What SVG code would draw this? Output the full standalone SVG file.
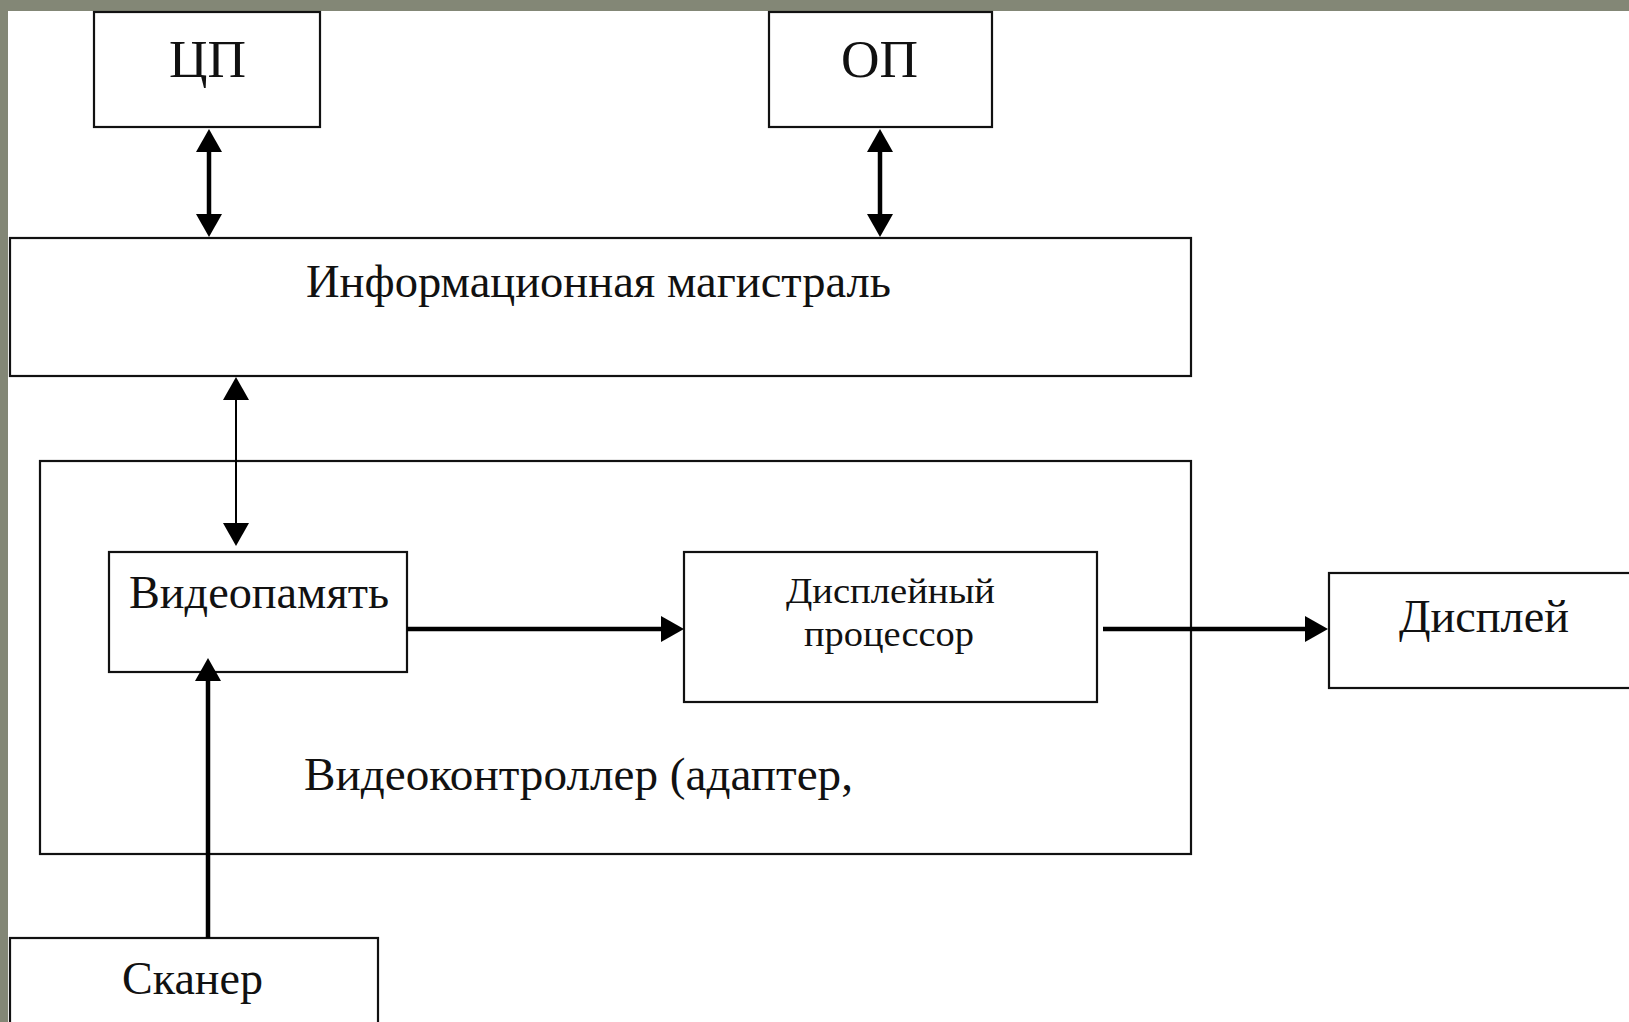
<svg xmlns="http://www.w3.org/2000/svg" width="1629" height="1022" viewBox="0 0 1629 1022">
<defs>
<style>
.box{fill:#fff;stroke:#111;stroke-width:2.2}
.t{font-family:"Liberation Serif","Times New Roman",serif;fill:#111}
.thick{stroke:#000;stroke-width:4.5;fill:none}
.thin{stroke:#000;stroke-width:2;fill:none}
</style>
<marker id="ah" markerUnits="userSpaceOnUse" markerWidth="24" markerHeight="26" refX="1" refY="13" orient="auto-start-reverse">
<path d="M0,0 L23,13 L0,26 z" fill="#000"/>
</marker>
</defs>
<rect x="0" y="0" width="1629" height="1022" fill="#838776"/>
<rect x="8" y="11" width="1621" height="1011" fill="#fff"/>

<g id="cpu">
<rect class="box" x="94" y="12" width="226" height="115"/>
<text class="t" x="169" y="77" font-size="52" textLength="77" lengthAdjust="spacingAndGlyphs">ЦП</text>
</g>
<g id="ram">
<rect class="box" x="769" y="12" width="223" height="115"/>
<text class="t" x="841" y="77" font-size="52" textLength="77" lengthAdjust="spacingAndGlyphs">ОП</text>
</g>
<g id="bus">
<rect class="box" x="10" y="238" width="1181" height="138"/>
<text class="t" x="306" y="297" font-size="46" textLength="585" lengthAdjust="spacingAndGlyphs">Информационная магистраль</text>
</g>
<g id="videocontroller">
<rect class="box" x="40" y="461" width="1151" height="393"/>
<text class="t" x="304" y="790" font-size="46" textLength="549" lengthAdjust="spacingAndGlyphs">Видеоконтроллер (адаптер,</text>
</g>
<g id="videomemory">
<rect class="box" x="109" y="552" width="298" height="120"/>
<text class="t" x="129" y="608" font-size="46" textLength="260" lengthAdjust="spacingAndGlyphs">Видеопамять</text>
</g>
<g id="display-processor">
<rect class="box" x="684" y="552" width="413" height="150"/>
<text class="t" x="786" y="603" font-size="35" textLength="209" lengthAdjust="spacingAndGlyphs">Дисплейный</text>
<text class="t" x="804" y="646" font-size="35" textLength="170" lengthAdjust="spacingAndGlyphs">процессор</text>
</g>
<g id="display">
<rect class="box" x="1329" y="573" width="320" height="115"/>
<text class="t" x="1399" y="632" font-size="46" textLength="170" lengthAdjust="spacingAndGlyphs">Дисплей</text>
</g>
<g id="scanner">
<rect class="box" x="10" y="938" width="368" height="100"/>
<text class="t" x="122" y="994" font-size="46" textLength="141" lengthAdjust="spacingAndGlyphs">Сканер</text>
</g>

<g id="connectors">
<line class="thick" x1="209" y1="151" x2="209" y2="215" marker-start="url(#ah)" marker-end="url(#ah)"/>
<line class="thick" x1="880" y1="151" x2="880" y2="215" marker-start="url(#ah)" marker-end="url(#ah)"/>
<line class="thin" x1="236" y1="399" x2="236" y2="524" marker-start="url(#ah)" marker-end="url(#ah)"/>
<line class="thick" x1="208" y1="938" x2="208" y2="680" marker-end="url(#ah)"/>
<line class="thick" x1="407" y1="629" x2="662" y2="629" marker-end="url(#ah)"/>
<line class="thick" x1="1103" y1="629" x2="1306" y2="629" marker-end="url(#ah)"/>
</g>
</svg>
